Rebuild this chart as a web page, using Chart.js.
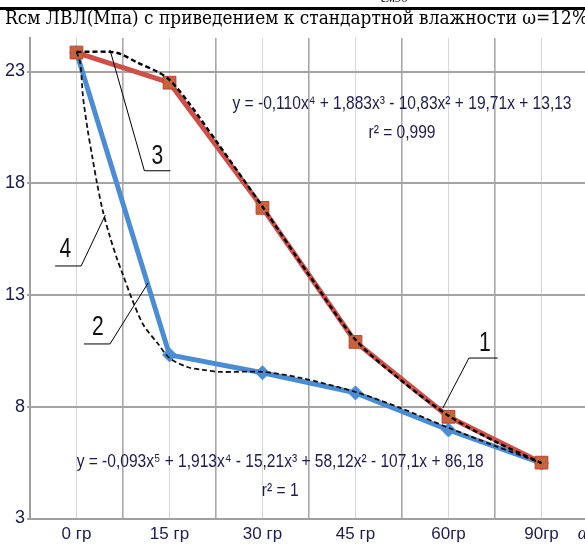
<!DOCTYPE html>
<html><head><meta charset="utf-8">
<script src="https://cdn.jsdelivr.net/npm/chart.js@4.4.1/dist/chart.umd.min.js"></script>
<style>
html,body{margin:0;padding:0;background:#fff;overflow:hidden;}
#wrap{width:585px;height:546px;overflow:hidden;position:relative;background:#fff;}
canvas{display:block;}
</style></head><body>
<div id="wrap"><canvas id="c" width="600" height="546"></canvas></div>
<script>
// ---- data ----
const categories = ['0 гр', '15 гр', '30 гр', '45 гр', '60гр', '90гр'];
const series1 = [23.85, 22.5, 16.9, 10.9, 7.55, 5.5];   // curve 1 (red)
const series2 = [23.85, 10.32, 9.52, 8.62, 6.96, 5.48]; // curve 2 (blue)
// curve 3 (dashed, upper), x in category index units
const trend3X = [0, 0.36, 0.47, 0.66, 0.87, 1.0, 1.2, 1.5, 2, 2.5, 3, 3.5, 4, 4.5, 5];
const trend3Y = [23.88, 23.88, 23.79, 23.39, 22.99, 22.63, 21.64, 19.9, 16.95, 13.9, 11.0, 9.15, 7.6, 6.45, 5.48];
// curve 4 (dashed, lower)
const trend4X = [0, 0.04, 0.07, 0.12, 0.17, 0.22, 0.28, 0.36, 0.44, 0.5, 0.6, 0.72, 0.87, 1.0, 1.19, 1.36, 1.54, 2.0, 2.41, 3.0, 3.48, 4.0, 4.5, 5.0];
const trend4Y = [23.88, 23.39, 21.87, 20.39, 19.18, 18.02, 16.81, 15.6, 14.57, 13.9, 12.78, 11.66, 10.85, 10.18, 9.78, 9.65, 9.56, 9.56, 9.29, 8.66, 7.95, 7.06, 6.25, 5.48];
const yTicks = [3, 8, 13, 18, 23];
const titleText = 'Rсм ЛВЛ(Мпа) с приведением к стандартной влажности ω=12%';
const eq1 = 'y = -0,110x⁴ + 1,883x³ - 10,83x² + 19,71x + 13,13';
const r1 = 'r² = 0,999';
const eq2 = 'y = -0,093x⁵ + 1,913x⁴ - 15,21x³ + 58,12x² - 107,1x + 86,18';
const r2 = 'r² = 1';

// ---- annotation placement (data units) ----
const numberNotes = [
  {text: '1', at: [4.39, 10.85], path: [[4.53, 10.18], [4.22, 10.18], [3.94, 7.95]]},
  {text: '2', at: [0.23, 11.53], path: [[0.08, 10.81], [0.36, 10.81], [0.77, 13.54]]},
  {text: '3', at: [0.87, 19.2], path: [[1.01, 18.56], [0.73, 18.56], [0.36, 23.97]]},
  {text: '4', at: [-0.12, 15.02], path: [[-0.23, 14.3], [0.05, 14.3], [0.31, 16.58]]}
];
const textNotes = [
  {text: eq1, at: [3.5, 21.55]},
  {text: r1, at: [3.5, 20.25]},
  {text: eq2, at: [2.19, 5.53]},
  {text: r2, at: [2.19, 4.23]}
];
const eqTextWidth = 339; // reference width of first equation, px

const pts = arr => arr.map((v, i) => ({x: i, y: v}));
const xy = (xs, ys) => xs.map((x, i) => ({x: x, y: ys[i]}));
const isInt = v => Math.abs(v - Math.round(v)) < 1e-6;
const NARROW = '"Liberation Sans Narrow", "Liberation Sans", Arial, sans-serif';

const decorPlugin = {
  id: 'decor',
  beforeDraw(chart) {
    const ctx = chart.ctx;
    ctx.save();
    ctx.fillStyle = '#fff';
    ctx.fillRect(0, 0, chart.width, chart.height);
    ctx.fillStyle = '#000';
    ctx.fillRect(0, 7, chart.width, 3);
    ctx.font = 'italic 13px "Liberation Serif", serif';
    ctx.textAlign = 'left';
    ctx.textBaseline = 'alphabetic';
    ctx.fillText('см90', 381, 2);
    ctx.restore();
  },
  afterDatasetsDraw(chart) {
    const ctx = chart.ctx, xs = chart.scales.x, ys = chart.scales.y;
    const P = p => [xs.getPixelForValue(p[0]), ys.getPixelForValue(p[1])];
    ctx.save();
    ctx.strokeStyle = '#000';
    ctx.lineWidth = 1;
    ctx.fillStyle = '#111';
    ctx.textAlign = 'center';
    ctx.textBaseline = 'middle';
    ctx.font = '27px ' + NARROW;
    numberNotes.forEach(n => {
      ctx.beginPath();
      n.path.forEach((p, i) => { const q = P(p); i ? ctx.lineTo(q[0], q[1]) : ctx.moveTo(q[0], q[1]); });
      ctx.stroke();
      const t = P(n.at);
      ctx.save();
      ctx.translate(t[0], t[1]);
      ctx.scale(0.78, 1);
      ctx.fillText(n.text, 0, 0);
      ctx.restore();
    });
    ctx.font = '19px ' + NARROW;
    ctx.fillStyle = '#1c1c4e';
    const k = eqTextWidth / ctx.measureText(eq1).width;
    textNotes.forEach(n => {
      const t = P(n.at);
      ctx.save();
      ctx.translate(t[0], t[1]);
      ctx.scale(k, 1);
      ctx.fillText(n.text, 0, 0);
      ctx.restore();
    });
    ctx.font = 'italic 18px "Liberation Serif", serif';
    ctx.textAlign = 'left';
    ctx.fillStyle = '#1c1c4e';
    const a = P([5.39, 2.3]);
    ctx.fillText('α', a[0], a[1]);
    ctx.restore();
  }
};

new Chart(document.getElementById('c'), {
  type: 'line',
  data: {
    datasets: [
      {label: '3', data: xy(trend3X, trend3Y), borderColor: '#000', borderWidth: 2.4, borderDash: [5, 3],
       pointRadius: 0, tension: 0.3, fill: false, order: 0},
      {label: '4', data: xy(trend4X, trend4Y), borderColor: '#111', borderWidth: 1.8, borderDash: [5, 3],
       pointRadius: 0, tension: 0.3, fill: false, order: 1},
      {label: '1', data: pts(series1), borderColor: '#cf4f47', borderWidth: 5, tension: 0,
       pointStyle: 'rect', pointRadius: 9, pointBackgroundColor: '#c8623d', pointBorderColor: '#b8452f', pointBorderWidth: 1,
       order: 2},
      {label: '2', data: pts(series2), borderColor: '#4a8dd4', borderWidth: 5, tension: 0,
       pointStyle: 'rectRot', pointRadius: 7, pointBackgroundColor: '#4a8dd4', pointBorderColor: '#4a8dd4', pointBorderWidth: 1,
       order: 3}
    ]
  },
  options: {
    responsive: false,
    devicePixelRatio: 1,
    animation: false,
    layout: {padding: {left: 5, right: 12, top: 0, bottom: 0}},
    plugins: {
      legend: {display: false},
      tooltip: {enabled: false},
      title: {display: true, text: titleText, align: 'start', color: '#000',
        font: {family: '"DejaVu Serif", "Liberation Serif", serif', size: 18, weight: 'normal'},
        padding: {top: 9, bottom: 7.4}}
    },
    scales: {
      x: {
        type: 'linear', min: -0.5, max: 5.5,
        afterFit(s) { s.height = 27.5; },
        ticks: {stepSize: 0.5, autoSkip: false, maxRotation: 0, padding: 6, color: '#1c1c4e',
          font: {family: NARROW, size: 17},
          callback: v => isInt(v) ? categories[Math.round(v)] : ''},
        grid: {drawTicks: false,
          color: c => isInt(c.tick.value) ? '#d6d6d6' : '#a8a8a8',
          lineWidth: c => isInt(c.tick.value) ? 1 : 1.6},
        border: {color: '#a0a0a0', width: 2}
      },
      y: {
        min: 3, max: 24.5,
        afterFit(s) { s.width = 25; },
        afterBuildTicks(s) { s.ticks = yTicks.map(v => ({value: v})); },
        ticks: {padding: 2, color: '#1c1c4e', font: {family: NARROW, size: 18}},
        grid: {color: '#a4a4a4', lineWidth: 2, tickLength: 3},
        border: {color: '#a0a0a0', width: 2}
      }
    }
  },
  plugins: [decorPlugin]
});
</script>
</body></html>
